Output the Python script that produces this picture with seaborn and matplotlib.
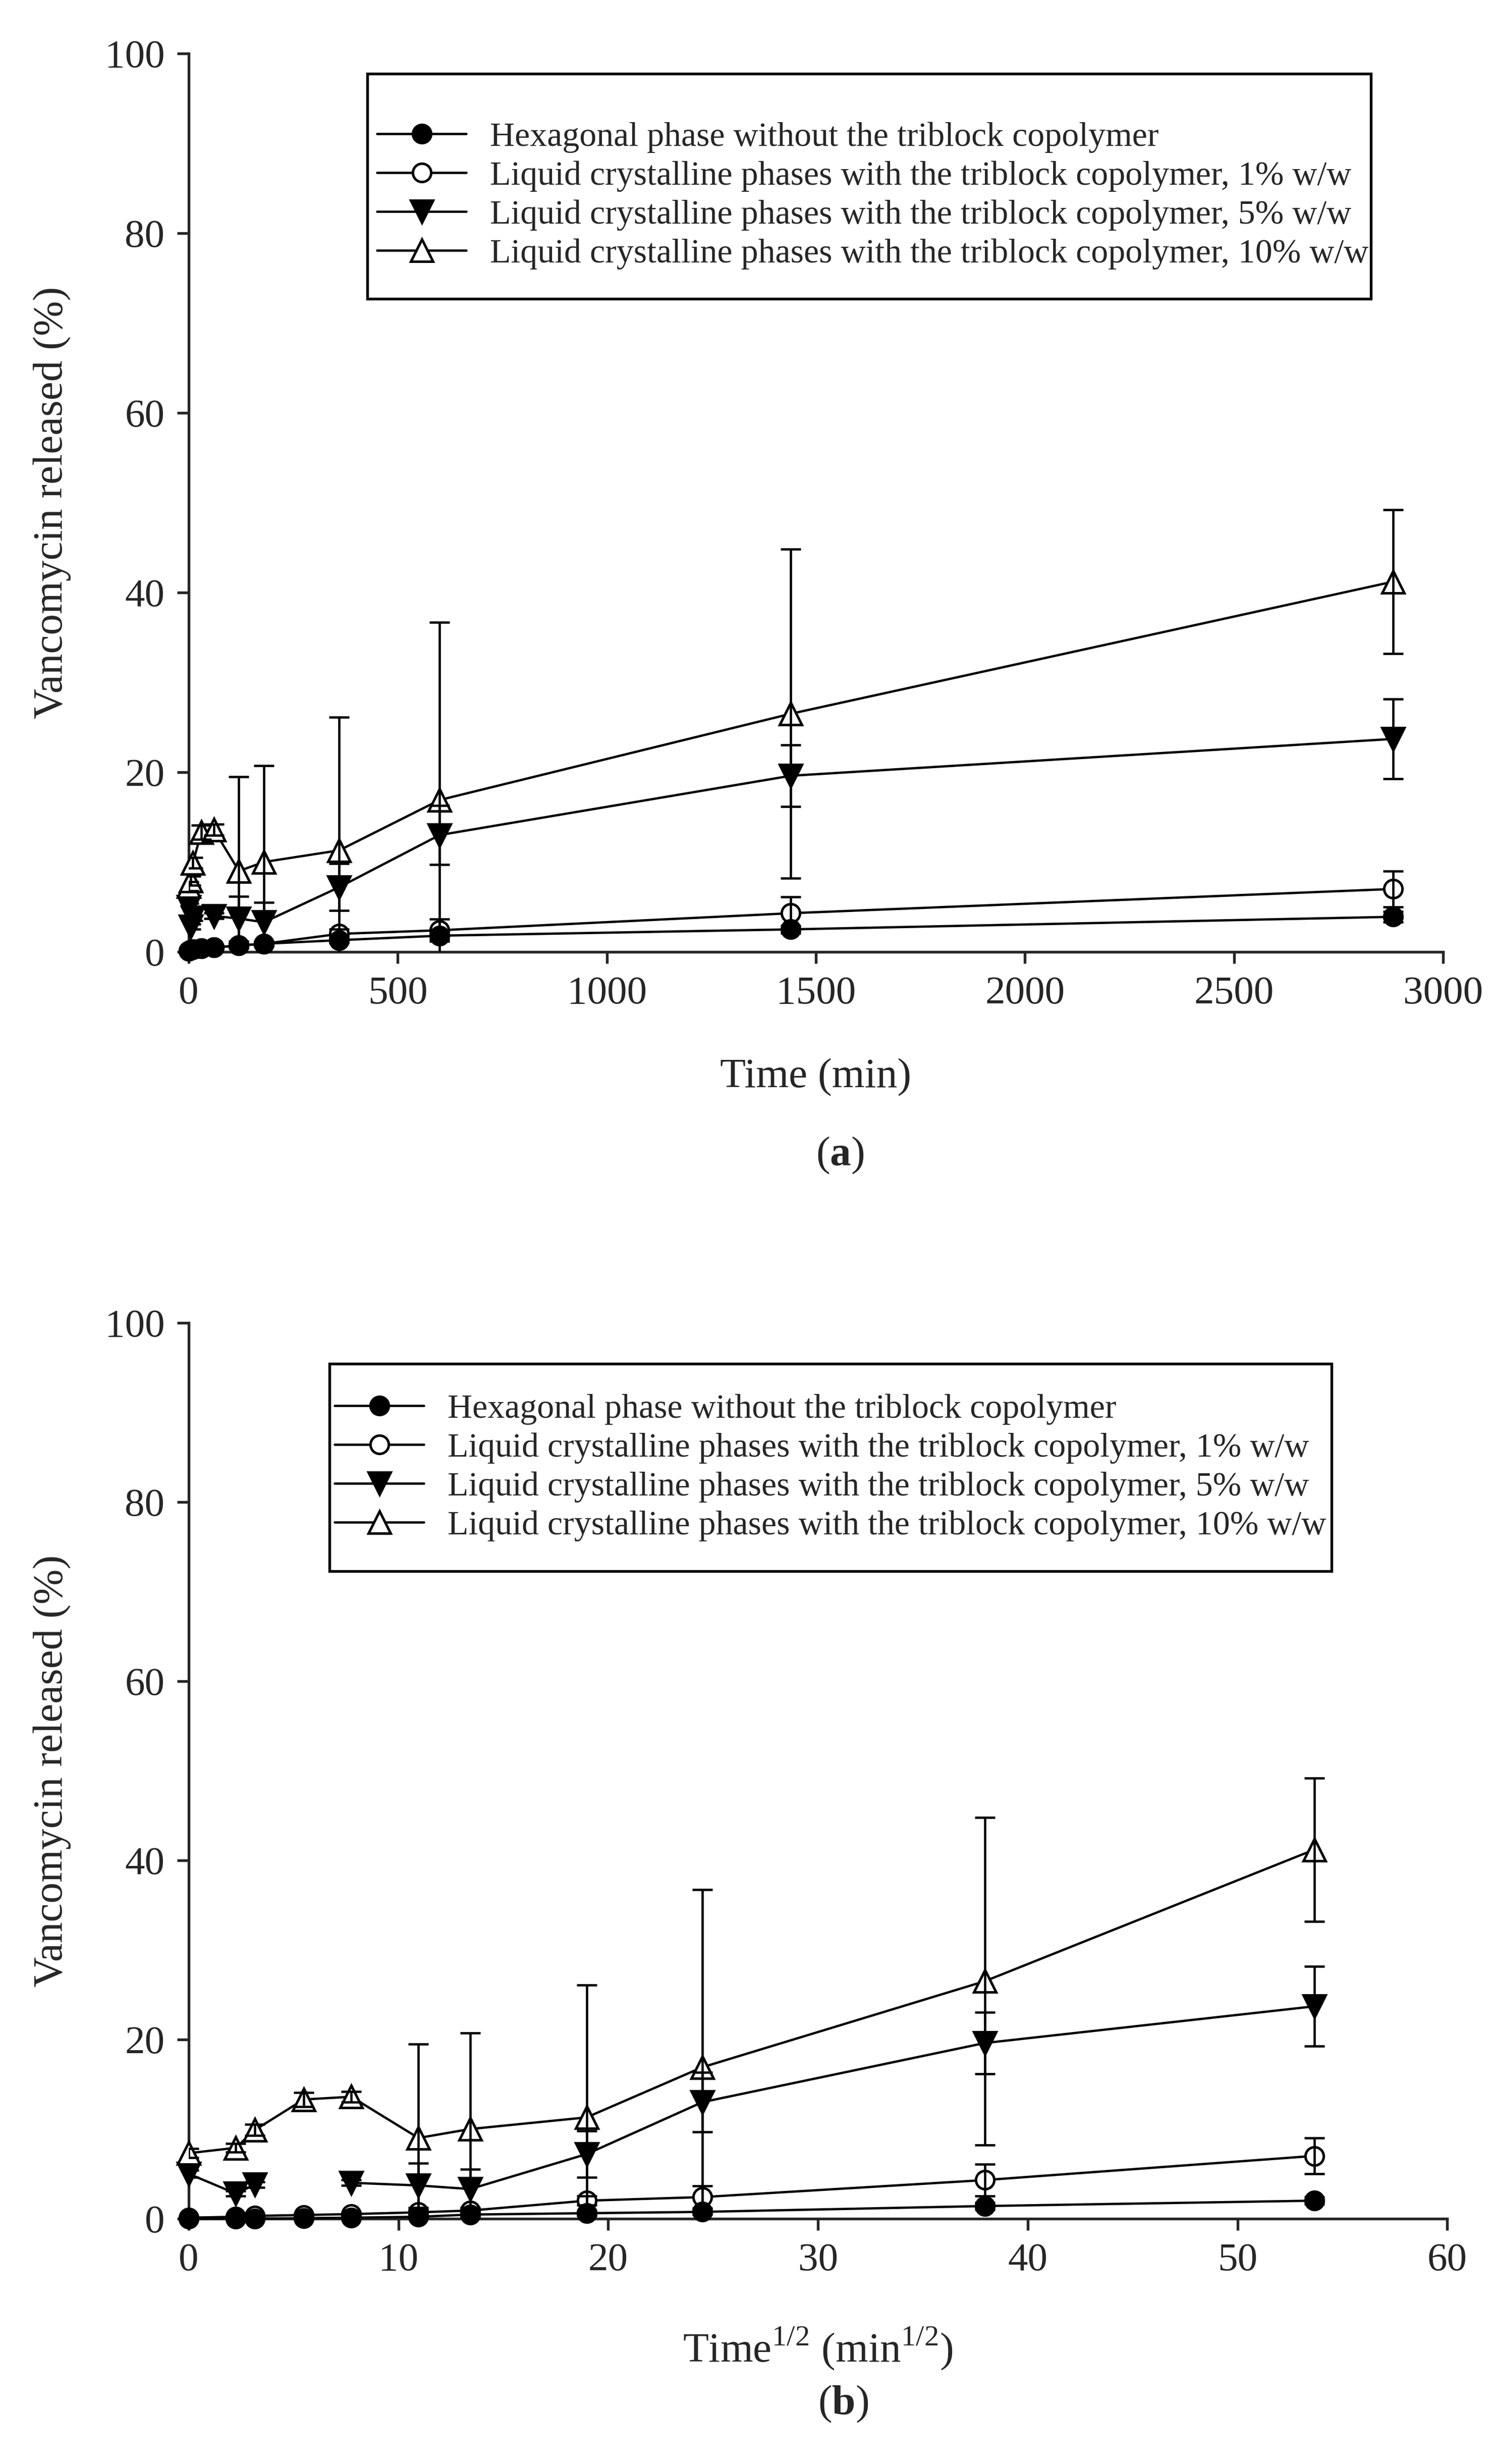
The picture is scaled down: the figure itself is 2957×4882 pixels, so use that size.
import numpy as np
import pandas as pd
import matplotlib
matplotlib.use("Agg")
import matplotlib.pyplot as plt
from matplotlib.lines import Line2D
from matplotlib.patches import Rectangle
import seaborn as sns

# ---------------- data ----------------
time_min = [0, 5, 10, 30, 60, 120, 180, 360, 600, 1440, 2880]
time_sqrt = [0, 2.24, 3.16, 5.48, 7.75, 10.95, 13.42, 18.97, 24.49, 37.95, 53.67]

labels = ["Hexagonal phase without the triblock copolymer",
          "Liquid crystalline phases with the triblock copolymer, 1% w/w",
          "Liquid crystalline phases with the triblock copolymer, 5% w/w",
          "Liquid crystalline phases with the triblock copolymer, 10% w/w"]

hex_a = [0.1, 0.2, 0.3, 0.4, 0.5, 0.7, 0.9, 1.3, 1.8, 2.5, 3.9]
hex_a_err = [0.1, 0.1, 0.1, 0.1, 0.1, 0.2, 0.2, 0.3, 0.4, 0.4, 0.6]
hex_b = [0.0, 0.0, 0.0, 0.05, 0.1, 0.2, 0.45, 0.6, 0.75, 1.4, 2.0]
hex_b_err = [0.05, 0.05, 0.05, 0.05, 0.1, 0.2, 0.3, 0.3, 0.3, 0.4, 0.4]

lc1 = [0.1, 0.2, 0.3, 0.4, 0.5, 0.7, 0.9, 2.0, 2.4, 4.3, 7.0]
lc1_err = [0.1, 0.1, 0.1, 0.1, 0.1, 0.3, 0.3, 0.5, 1.25, 1.8, 2.0]

lc5 = [5.0, 2.8, 3.8, np.nan, 4.0, 3.7, 3.3, 7.2, 13.0, 19.6, 23.7]
lc5_err = [0.4, 0.3, 0.3, np.nan, 0.3, 2.5, 2.2, 2.6, 3.3, 3.45, 4.45]

lc10 = [7.3, 7.9, 9.9, 13.3, 13.6, 9.0, 10.0, 11.3, 16.9, 26.5, 41.2]
lc10_err = [0.5, 0.5, 0.6, 0.8, 0.6, 10.5, 10.7, 14.8, 19.8, 18.3, 8.0]

y_ticks = [0, 20, 40, 60, 80, 100]
x_ticks_a = [0, 500, 1000, 1500, 2000, 2500, 3000]
x_ticks_b = [0, 10, 20, 30, 40, 50, 60]

# ---------------- style ----------------
sns.set_theme(style="ticks")
plt.rcParams['font.family'] = ['Liberation Serif', 'DejaVu Serif']
plt.rcParams['mathtext.fontset'] = 'custom'
plt.rcParams['mathtext.rm'] = 'Liberation Serif'
plt.rcParams['mathtext.bf'] = 'Liberation Serif:bold'
plt.rcParams['axes.linewidth'] = 1.3
plt.rcParams['xtick.major.width'] = 1.3
plt.rcParams['ytick.major.width'] = 1.3
plt.rcParams['xtick.major.size'] = 5.5
plt.rcParams['ytick.major.size'] = 5.5

styles = [
    dict(marker='o', mfc='black', ms=8.7, z=5),
    dict(marker='o', mfc='white', ms=8.7, z=4),
    dict(marker='v', mfc='black', ms=10.5, z=6),
    dict(marker='^', mfc='white', ms=10.5, z=7),
]
LW = 1.1

fig = plt.figure(figsize=(2957 / 300, 4882 / 300), dpi=300)
ax_a = fig.add_axes([0.1265, 0.6137, 0.8407, 0.3646])
ax_b = fig.add_axes([0.1265, 0.0996, 0.8435, 0.3635])


def draw_panel(ax, xs, series, errs):
    for k, (ys, es) in enumerate(zip(series, errs)):
        st = styles[k]
        df = pd.DataFrame({"x": xs, "y": ys, "e": es})
        ok = df["y"].notna()
        seg = df["y"].isna().cumsum()
        for _, part in df[ok].groupby(seg[ok]):
            sns.lineplot(data=part, x="x", y="y", ax=ax, color="black",
                         linewidth=LW, marker=st['marker'], markersize=st['ms'],
                         markerfacecolor=st['mfc'], markeredgecolor="black",
                         markeredgewidth=1.2, estimator=None, sort=False,
                         errorbar=None, legend=False, clip_on=False, zorder=st['z'])
        good = df.dropna()
        ax.errorbar(good["x"], good["y"], yerr=good["e"], fmt='none',
                    ecolor='black', elinewidth=1.1, capsize=4.8, capthick=1.1,
                    zorder=9)
    sns.despine(ax=ax)
    ax.set_ylim(0, 100)
    ax.set_yticks(y_ticks)
    ax.tick_params(labelsize=19, direction='out', pad=6)
    ax.set_ylabel("Vancomycin released (%)", fontsize=20, labelpad=16)


draw_panel(ax_a, time_min, [hex_a, lc1, lc5, lc10], [hex_a_err, lc1_err, lc5_err, lc10_err])
ax_a.set_xlim(0, 3000)
ax_a.set_xticks(x_ticks_a)
ax_a.set_xlabel("Time (min)", fontsize=20, labelpad=22)

draw_panel(ax_b, time_sqrt, [hex_b, lc1, lc5, lc10], [hex_b_err, lc1_err, lc5_err, lc10_err])
ax_b.set_xlim(0, 60)
ax_b.set_xticks(x_ticks_b)
ax_b.set_xlabel(r"Time$^{1/2}$ (min$^{1/2}$)", fontsize=20, labelpad=22)

handles = [Line2D([0], [0], color='black', lw=LW, marker=s['marker'], markersize=s['ms'],
                  markerfacecolor=s['mfc'], markeredgecolor='black', markeredgewidth=1.2)
           for s in styles]

# legend frames (figure coords) and legend anchors
boxes = [(0.2463, 0.8788, 0.919 - 0.2463, 0.970 - 0.8788),
         (0.2210, 0.3623, 0.8926 - 0.2210, 0.4465 - 0.3623)]
anchors = [(0.2527, 0.9206), (0.2243, 0.4044)]

for ax, box, anchor in zip([ax_a, ax_b], boxes, anchors):
    rect = Rectangle(box[:2], box[2], box[3], transform=fig.transFigure,
                     facecolor='white', edgecolor='black', linewidth=1.3,
                     zorder=10, clip_on=False)
    ax.add_artist(rect)
    leg = ax.legend(handles, labels, loc='center left', bbox_to_anchor=anchor,
                    bbox_transform=fig.transFigure, fontsize=16.3, frameon=False,
                    handlelength=2.6, handletextpad=0.7, labelspacing=0.23,
                    borderpad=0, borderaxespad=0)
    leg.set_zorder(20)

fig.text(0.563, 0.531, r"($\mathbf{a}$)", ha='center', va='center', fontsize=20)
fig.text(0.565, 0.0244, r"($\mathbf{b}$)", ha='center', va='center', fontsize=20)

fig.savefig("out.png", dpi=300)
